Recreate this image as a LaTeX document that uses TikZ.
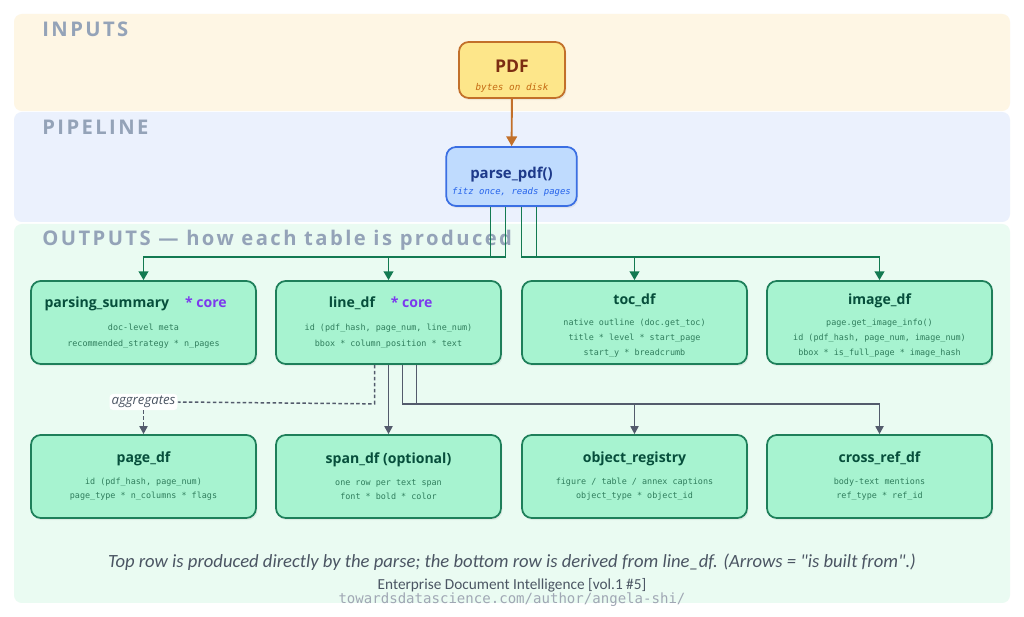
\documentclass[tikz,border=0pt]{standalone}
\usepackage{fontspec}
\setmainfont{Open Sans}
\setmonofont{DejaVu Sans Mono}
\newfontfamily\bandfont[LetterSpace=12]{Open Sans}
\newfontfamily\notefont{Carlito}
\usetikzlibrary{arrows.meta,calc,shadows}

\definecolor{bandyellow}{HTML}{FEF6E4}
\definecolor{bandblue}{HTML}{EBF1FD}
\definecolor{bandgreen}{HTML}{EAFBF2}
\definecolor{bandtext}{HTML}{94A3B8}
\definecolor{pdffill}{HTML}{FDE68A}
\definecolor{pdfline}{HTML}{C2702A}
\definecolor{pdftext}{HTML}{7C2D12}
\definecolor{pdfsub}{HTML}{C46A12}
\definecolor{parsefill}{HTML}{BFDBFE}
\definecolor{parseline}{HTML}{3B6FE3}
\definecolor{parsetext}{HTML}{1E3A8A}
\definecolor{parsesub}{HTML}{2563EB}
\definecolor{tabfill}{HTML}{A7F3D0}
\definecolor{tabline}{HTML}{1E7F5A}
\definecolor{tabtext}{HTML}{064E3B}
\definecolor{tabsub}{HTML}{2F7D5C}
\definecolor{corepurple}{HTML}{7C3AED}
\definecolor{flowgreen}{HTML}{137A52}
\definecolor{flowgray}{HTML}{535B6C}
\definecolor{notegray}{HTML}{4B5563}
\definecolor{urlgray}{HTML}{A0A7B4}

\tikzset{
    bandtitle/.style={anchor=west, inner sep=0pt, text=bandtext, font=\bandfont\bfseries\fontsize{11.5}{12}\selectfont},
    tabbox/.style={draw=tabline, fill=tabfill, line width=1pt, rounded corners=5.5pt,
        minimum width=4.5cm, minimum height=1.66cm, align=center, text=tabsub,
        drop shadow={shadow xshift=0.8pt, shadow yshift=-1.2pt, opacity=0.12},
        font=\ttfamily\fontsize{4.8}{8.7}\selectfont},
    flowg/.style={draw=flowgreen, line width=1.1pt, -{Triangle[length=5pt,width=5.5pt]}},
    flowk/.style={draw=flowgray, line width=0.85pt, -{Triangle[length=4.5pt,width=4.6pt]}},
}
\newcommand{\tabname}[1]{{\color{tabtext}\rmfamily\bfseries\fontsize{8}{10}\selectfont #1}}

\begin{document}
\begin{tikzpicture}[x=0.02cm, y=-0.02cm]
    \useasboundingbox (0,0) rectangle (1024,617);
    \fill[white] (0,0) rectangle (1024,617);

    % ==========================================
    % 1. BANDS
    % ==========================================
    \fill[bandyellow, rounded corners=4.5pt] (14,14) rectangle (1010,111); % inputs
    \fill[bandblue, rounded corners=4.5pt] (14,112) rectangle (1010,222); % pipeline
    \fill[bandgreen, rounded corners=4.5pt] (14,224) rectangle (1010,603); % outputs

    \node[bandtitle] (tin) at (42,29) {INPUTS};
    \node[bandtitle] (tpipe) at (42,127) {PIPELINE};
    \node[bandtitle] (tout) at (42,240) {OUTPUTS — how each table is produced};

    % ==========================================
    % 2. INPUT AND PARSER
    % ==========================================
    \node[draw=pdfline, fill=pdffill, line width=1pt, rounded corners=5.5pt,
        minimum width=2.12cm, minimum height=1.12cm, align=center,
        font=\fontsize{5}{10}\selectfont,
        drop shadow={shadow xshift=0.8pt, shadow yshift=-1.2pt, opacity=0.12}] (pdf) at (512,70)
        {\rule{0pt}{14pt}{\color{pdftext}\bfseries\fontsize{10}{12}\selectfont PDF}\\
         {\color{pdfsub}\ttfamily\itshape\fontsize{5.3}{6}\selectfont bytes on disk}};

    \node[draw=parseline, fill=parsefill, line width=1pt, rounded corners=5.5pt,
        minimum width=2.54cm, minimum height=1.18cm, align=center,
        font=\fontsize{5}{9.4}\selectfont,
        drop shadow={shadow xshift=0.8pt, shadow yshift=-1.2pt, opacity=0.12}] (parse) at (511.5,176.5)
        {\rule{0pt}{12.5pt}{\color{parsetext}\bfseries\fontsize{8.5}{10}\selectfont parse\_pdf()}\\
         {\color{parsesub}\ttfamily\itshape\fontsize{5.1}{6}\selectfont fitz once, reads pages}};

    \draw[draw=pdfline, line width=1.1pt, -{Triangle[length=5.5pt,width=6pt]}] (pdf) -- (parse);

    % ==========================================
    % 3. TABLES (top row from parse, bottom row from line_df)
    % ==========================================
    \node[tabbox] (summary) at (143.5,322.5)
        {\tabname{parsing\_summary\hspace{9pt}{\color{corepurple}* core}}\hspace*{9pt}\\[4.5pt]
         doc-level meta\\ recommended\_strategy * n\_pages};
    \node[tabbox] (line) at (388.5,322.5)
        {\tabname{line\_df\hspace{9pt}{\color{corepurple}* core}}\hspace*{9pt}\\[4.5pt]
         id (pdf\_hash, page\_num, line\_num)\\ bbox * column\_position * text};
    \node[tabbox] (toc) at (634.5,322.5)
        {\rule{0pt}{9.5pt}\tabname{toc\_df}\\[3.5pt]
         native outline (doc.get\_toc)\\[-0.2pt] title * level * start\_page\\[-0.2pt] start\_y * breadcrumb};
    \node[tabbox] (image) at (879.5,322.5)
        {\rule{0pt}{9.5pt}\tabname{image\_df}\\[3.5pt]
         page.get\_image\_info()\\[-0.2pt] id (pdf\_hash, page\_num, image\_num)\\[-0.2pt] bbox * is\_full\_page * image\_hash};

    \node[tabbox] (page) at (143.5,476.5)
        {\tabname{page\_df}\\[3.5pt]
         id (pdf\_hash, page\_num)\\[-0.5pt] page\_type * n\_columns * flags};
    \node[tabbox] (span) at (388.5,476.5)
        {\tabname{span\_df (optional)}\\[3.5pt]
         one row per text span\\[-0.5pt] font * bold * color};
    \node[tabbox] (objreg) at (634.5,476.5)
        {\tabname{object\_registry}\\[3.5pt]
         figure / table / annex captions\\[-0.5pt] object\_type * object\_id};
    \node[tabbox] (xref) at (879.5,476.5)
        {\tabname{cross\_ref\_df}\\[3.5pt]
         body-text mentions\\[-0.5pt] ref\_type * ref\_id};

    % ==========================================
    % 4. CONNECTORS
    % ==========================================
    \draw[flowg] ($(parse.south)+(-21,0)$) -- ++(0,50) -| (summary.north);
    \draw[flowg] ($(parse.south)+(-6,0)$) -- ++(0,50) -| (line.north);
    \draw[flowg] ($(parse.south)+(10,0)$) -- ++(0,50) -| (image.north);
    \draw[flowg] ($(parse.south)+(25,0)$) -- ++(0,50) -| (toc.north);

    \node[fill=white, rounded corners=2pt, inner sep=1.2pt, text=notegray,
        font=\itshape\fontsize{7.5}{9}\selectfont] (agg) at (143.5,402) {aggregates};
    \draw[flowk, -, dash pattern=on 2pt off 1.4pt] ($(line.south)+(-14,0)$) -- ++(0,39) -- (agg.east);
    \draw[flowk, dash pattern=on 2pt off 1.4pt] (agg.south) -- (page.north);
    \draw[flowk] (line.south) -- (span.north);
    \draw[flowk] ($(line.south)+(14,0)$) -- ++(0,39) -| (xref.north);
    \draw[flowk] ($(line.south)+(28,0)$) -- ++(0,39) -| (objreg.north);

    % ==========================================
    % 5. NOTES
    % ==========================================
    \node[text=notegray, font=\notefont\itshape\fontsize{10.6}{12}\selectfont] (note) at (512,562)
        {Top row is produced directly by the parse; the bottom row is derived from line\_df. (Arrows = "is built from".)};
    \node[text=notegray, font=\notefont\fontsize{8.7}{10}\selectfont, inner sep=0pt] (credit) at (512,585)
        {Enterprise Document Intelligence [vol.1 \#5]};
    \node[text=urlgray, font=\ttfamily\fontsize{8}{9}\selectfont, inner sep=0pt] (url) at (512,600)
        {towardsdatascience.com/author/angela-shi/};
\end{tikzpicture}
\end{document}
